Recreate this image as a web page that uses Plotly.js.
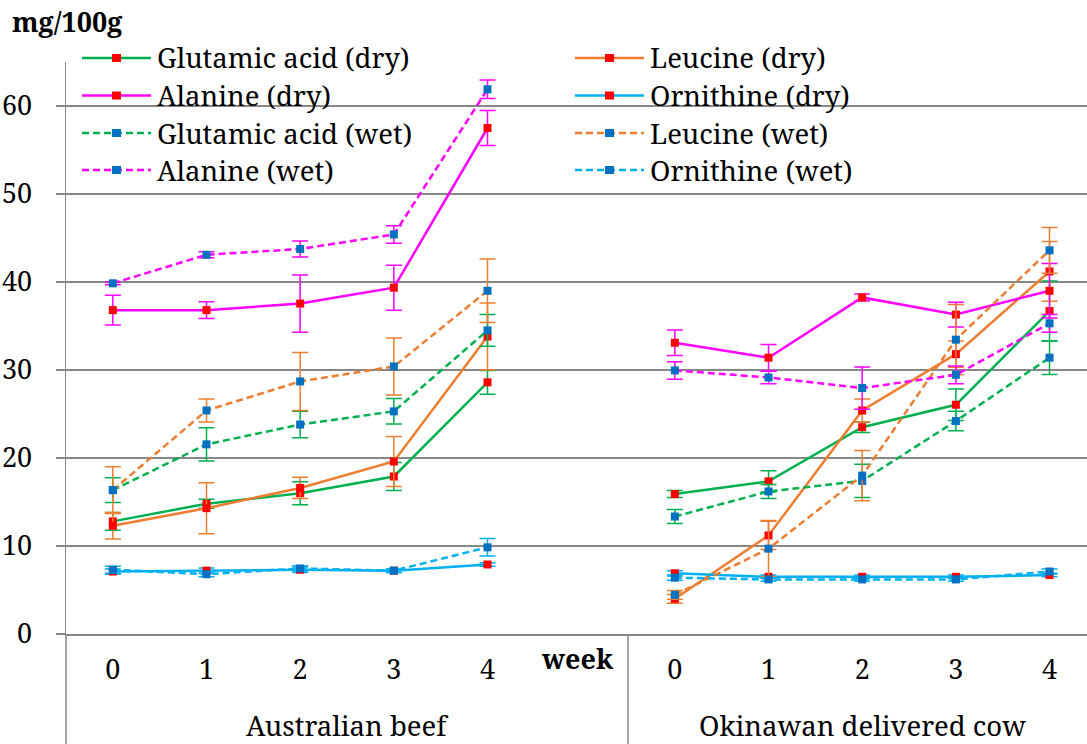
<!DOCTYPE html>
<html>
<head>
<meta charset="utf-8">
<script src="https://cdn.plot.ly/plotly-3.0.1.min.js"></script>
<style>
html,body{margin:0;padding:0;background:#ffffff;}
#chart{width:1087px;height:744px;}
</style>
</head>
<body>
<div id="chart"></div>
<script>
// ---------------- DATA ----------------
const groups = ["Australian beef", "Okinawan delivered cow"];
const weeks = ["0", "1", "2", "3", "4"];
const weekLabel = "week";
const unitLabel = "mg/100g";
const yTicks = [0, 10, 20, 30, 40, 50, 60];

// values: Australian beef weeks 0-4, then Okinawan delivered cow weeks 0-4
const glutamicDry    = [12.8, 14.8, 16.0, 17.9, 28.6, 15.9, 17.35, 23.5, 26.05, 36.7];
const glutamicDryErr = [1.0, 0.5, 1.3, 1.6, 1.35, 0.4, 1.2, 0.6, 1.8, 3.4];
const leucineDry     = [12.3, 14.3, 16.6, 19.6, 33.8, 4.0, 11.2, 25.4, 31.8, 41.2];
const leucineDryErr  = [1.5, 2.9, 1.2, 2.85, 3.8, 0.5, 1.6, 1.3, 1.5, 3.4];
const alanineDry     = [36.8, 36.8, 37.55, 39.35, 57.5, 33.1, 31.4, 38.25, 36.3, 39.0];
const alanineDryErr  = [1.7, 0.95, 3.25, 2.55, 2.0, 1.45, 1.5, 0.4, 1.4, 3.1];
const ornithineDry   = [7.1, 7.2, 7.3, 7.2, 7.9, 6.9, 6.5, 6.5, 6.5, 6.7];
const ornithineDryErr= [0.3, 0.3, 0.3, 0.2, 0.2, 0.3, 0.2, 0.2, 0.2, 0.2];
const glutamicWet    = [16.35, 21.55, 23.8, 25.3, 34.5, 13.35, 16.2, 17.4, 24.2, 31.4];
const glutamicWetErr = [1.4, 1.9, 1.5, 1.45, 1.8, 0.8, 0.8, 1.9, 1.1, 1.9];
const leucineWet     = [16.35, 25.4, 28.7, 30.4, 39.0, 4.45, 9.7, 18.0, 33.45, 43.6];
const leucineWetErr  = [2.65, 1.3, 3.3, 3.25, 3.6, 0.5, 3.2, 2.85, 4.0, 2.6];
const alanineWet     = [39.85, 43.1, 43.75, 45.4, 61.9, 29.95, 29.15, 27.95, 29.45, 35.3];
const alanineWetErr  = [0.15, 0.35, 0.9, 1.0, 1.05, 1.0, 0.7, 2.4, 1.0, 1.0];
const ornithineWet   = [7.3, 6.8, 7.45, 7.2, 9.85, 6.4, 6.2, 6.2, 6.2, 7.1];
const ornithineWetErr= [0.4, 0.3, 0.3, 0.2, 1.0, 0.3, 0.2, 0.2, 0.2, 0.3];

const seriesNames = ["Glutamic acid (dry)", "Leucine (dry)", "Alanine (dry)", "Ornithine (dry)",
                     "Glutamic acid (wet)", "Leucine (wet)", "Alanine (wet)", "Ornithine (wet)"];
const seriesValues = [glutamicDry, leucineDry, alanineDry, ornithineDry,
                      glutamicWet, leucineWet, alanineWet, ornithineWet];
const seriesErrors = [glutamicDryErr, leucineDryErr, alanineDryErr, ornithineDryErr,
                      glutamicWetErr, leucineWetErr, alanineWetErr, ornithineWetErr];

// ---------------- STYLE ----------------
const lineColors = ["#00B050", "#ED7D31", "#FF00FF", "#00B0F0",
                    "#00B050", "#ED7D31", "#FF00FF", "#00B0F0"];
const dryMarker = "#FF0000", wetMarker = "#0070C0";
const FONT = "Noto Serif, DejaVu Serif Condensed, DejaVu Serif";
const GRID = "#878787";

// plot-area geometry (px)
const W = 1087, H = 744;
const L = 66, R = 0, T = 62, B = 110;
const PW = W - L - R, PH = H - T - B;
const px2x = p => (p - L) / PW;
const py2y = p => (H - B - p) / PH;

// category positions: an empty slot between the groups holds "week"
const slot = weeks.length + 1;
const tickVals = [], tickText = [];
groups.forEach((g, gi) => weeks.forEach((w, wi) => {
  tickVals.push(gi * slot + wi);
  tickText.push(w);
}));
// break between the groups so the lines do not join across them
const withGap = arr => {
  const out = [];
  groups.forEach((g, gi) => {
    if (gi > 0) out.push(null);
    weeks.forEach((w, wi) => out.push(arr[gi * weeks.length + wi]));
  });
  return out;
};
const xPos = [];
groups.forEach((g, gi) => {
  if (gi > 0) xPos.push(gi * slot - 1);
  weeks.forEach((w, wi) => xPos.push(gi * slot + wi));
});

const traces = seriesNames.map((name, i) => {
  const wet = i >= 4;
  return {
    type: "scatter", mode: "lines+markers", name: name,
    x: xPos, y: withGap(seriesValues[i]), connectgaps: false,
    line: {color: lineColors[i], width: 2.5, dash: wet ? "7px,4px" : "solid"},
    marker: {symbol: "square", size: 8, color: wet ? wetMarker : dryMarker, line: {width: 0}},
    error_y: {type: "data", array: withGap(seriesErrors[i]), visible: true,
              color: lineColors[i], thickness: 1.5, width: 8},
    showlegend: false, cliponaxis: false
  };
});

// ---------------- legend (2 columns x 4 rows) ----------------
const shapes = [];
const annotations = [];
const legRowY = [58, 95.5, 133, 170];
const legCol = [{x1: 82, x2: 151, tx: 155}, {x1: 575, x2: 644, tx: 648}];
seriesNames.forEach((name, i) => {
  const r = Math.floor(i / 2), c = i % 2, wet = i >= 4;
  const y = legRowY[r], col = legCol[c];
  shapes.push({type: "line", xref: "paper", yref: "paper",
    x0: px2x(col.x1), x1: px2x(col.x2), y0: py2y(y), y1: py2y(y),
    line: {color: lineColors[i], width: 2.5, dash: wet ? "7px,4px" : "solid"}});
  const mx = (col.x1 + col.x2) / 2;
  shapes.push({type: "rect", xref: "paper", yref: "paper",
    x0: px2x(mx - 4.5), x1: px2x(mx + 4.5), y0: py2y(y + 4), y1: py2y(y - 4),
    fillcolor: wet ? wetMarker : dryMarker, line: {width: 0}});
  annotations.push({xref: "paper", yref: "paper", x: px2x(col.tx), y: py2y(y),
    xanchor: "left", yanchor: "middle", showarrow: false, text: name,
    font: {family: FONT, size: 27.5, color: "#000"}});
});

// group divider and left boundary below the axis
shapes.push({type: "line", xref: "x", yref: "paper", x0: weeks.length + 0.5, x1: weeks.length + 0.5,
  y0: 0, y1: py2y(H), line: {color: GRID, width: 1.5}});
shapes.push({type: "line", xref: "paper", yref: "paper", x0: 0, x1: 0,
  y0: 0, y1: py2y(H), line: {color: GRID, width: 1.5}});

// group labels
groups.forEach((g, gi) => {
  annotations.push({xref: "x", yref: "paper",
    x: gi === 0 ? (slot - 1) / 2 : gi * slot + (weeks.length - 1) / 2,
    y: py2y(725), xanchor: "center", yanchor: "middle", showarrow: false, text: g,
    font: {family: FONT, size: 27.5, color: "#000"}});
});
// "week" in the empty slot
annotations.push({xref: "x", yref: "paper", x: weeks.length - 0.04, y: py2y(658),
  xanchor: "center", yanchor: "middle", showarrow: false, text: "<b>" + weekLabel + "</b>",
  font: {family: FONT, size: 27, color: "#000"}});
// unit label
annotations.push({xref: "paper", yref: "paper", x: px2x(10), y: py2y(22),
  xanchor: "left", yanchor: "middle", showarrow: false, text: "<b>" + unitLabel + "</b>",
  font: {family: FONT, size: 27, color: "#000"}});

const layout = {
  width: W, height: H,
  margin: {l: L, r: R, t: T, b: B, pad: 0},
  paper_bgcolor: "#ffffff", plot_bgcolor: "#ffffff",
  showlegend: false,
  font: {family: FONT, size: 27, color: "#000"},
  xaxis: {
    range: [-0.5, 10.4], tickmode: "array", tickvals: tickVals, ticktext: tickText,
    showgrid: false, zeroline: false, showline: true, linecolor: GRID, linewidth: 2,
    ticks: "", ticklabelstandoff: 11,
    tickfont: {family: FONT, size: 27, color: "#000"}
  },
  yaxis: {
    range: [0, 65], tickmode: "array", tickvals: yTicks,
    showgrid: true, gridcolor: GRID, gridwidth: 1.5, zeroline: false,
    showline: true, linecolor: GRID, linewidth: 1.5,
    ticks: "outside", ticklen: 9, tickcolor: GRID, tickwidth: 1.5, ticklabelstandoff: 18,
    tickfont: {family: FONT, size: 27, color: "#000"}
  },
  shapes: shapes,
  annotations: annotations
};

Plotly.newPlot("chart", traces, layout, {displayModeBar: false, staticPlot: true});
</script>
</body>
</html>
